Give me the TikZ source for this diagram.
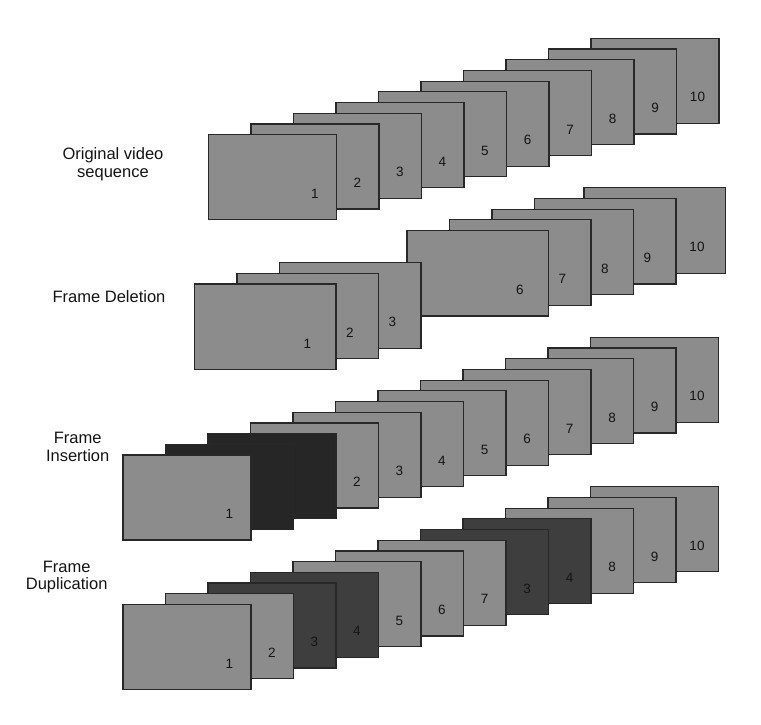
\documentclass[tikz,border=0pt]{standalone}
\usepackage{fontspec}
\setmainfont{Liberation Sans}
\definecolor{fgray}{RGB}{140,140,140}
\definecolor{darkA}{RGB}{38,38,38}
\definecolor{darkB}{RGB}{62,62,62}
\definecolor{edge}{RGB}{40,40,40}
\definecolor{txt}{RGB}{20,20,20}
\tikzset{
  frm/.style={draw=edge, line width=1.2pt, fill=fgray, anchor=north west,
    minimum width=128pt, minimum height=85pt, inner sep=0pt, outer sep=0pt},
  wide/.style={minimum width=141.5pt, minimum height=85.5pt},
  lt/.style={},
  dkA/.style={fill=darkA},
  dkB/.style={fill=darkB},
  num/.style={font=\fontsize{13.5}{15}\selectfont, text=txt, inner sep=0pt},
  lbl/.style={font=\fontsize{16.5}{17.7}\selectfont, text=txt, align=center, inner sep=0pt}
}
\begin{document}
\begin{tikzpicture}[x=1pt,y=-1pt]
\useasboundingbox (0,0) rectangle (761,724);
% Row 1: original
\foreach \p/\t in {9/10,8/9,7/8,6/7,5/6,4/5,3/4,2/3,1/2,0/1} {
  \node[frm] (r1p\p) at ({208.5+42.5*\p},{134.6-10.7*\p}) {};
  \path (r1p\p.south east) ++(-21.5,-26) node[num] {\t};
}
% Row 2: deletion
\node[frm,wide] (r2p9) at (584,187.7) {};
\path (r2p9.south east) ++(-28.5,-26) node[num] {10};
\foreach \p/\t in {8/9,7/8,6/7,5/6,2/3,1/2,0/1} {
  \node[frm,wide] (r2p\p) at ({194.4+42.5*\p},{284-10.7*\p}) {};
  \path (r2p\p.south east) ++(-28.5,-26) node[num] {\t};
}
% Row 3: insertion
\foreach \p/\t/\s in {11/10/lt,10/9/lt,9/8/lt,8/7/lt,7/6/lt,6/5/lt,5/4/lt,4/3/lt,3/2/lt,2//dkA,1//dkA,0/1/lt} {
  \node[frm,\s] (r3p\p) at ({123+42.5*\p},{455-10.7*\p}) {};
  \path (r3p\p.south east) ++(-21.5,-26) node[num] {\t};
}
% Row 4: duplication
\foreach \p/\t/\s in {11/10/lt,10/9/lt,9/8/lt,8/4/dkB,7/3/dkB,6/7/lt,5/6/lt,4/5/lt,3/4/dkB,2/3/dkB,1/2/lt,0/1/lt} {
  \node[frm,\s] (r4p\p) at ({123+42.5*\p},{604.4-10.7*\p}) {};
  \path (r4p\p.south east) ++(-21.5,-26) node[num] {\t};
}
% Row labels
\node[lbl] (l1) at (113,164.5) {Original video\\sequence};
\node[lbl] (l2) at (109,297) {Frame Deletion};
\node[lbl] (l3) at (77.7,447) {Frame\\Insertion};
\node[lbl] (l4) at (66.7,577) {Frame\\Duplication};
\end{tikzpicture}
\end{document}
